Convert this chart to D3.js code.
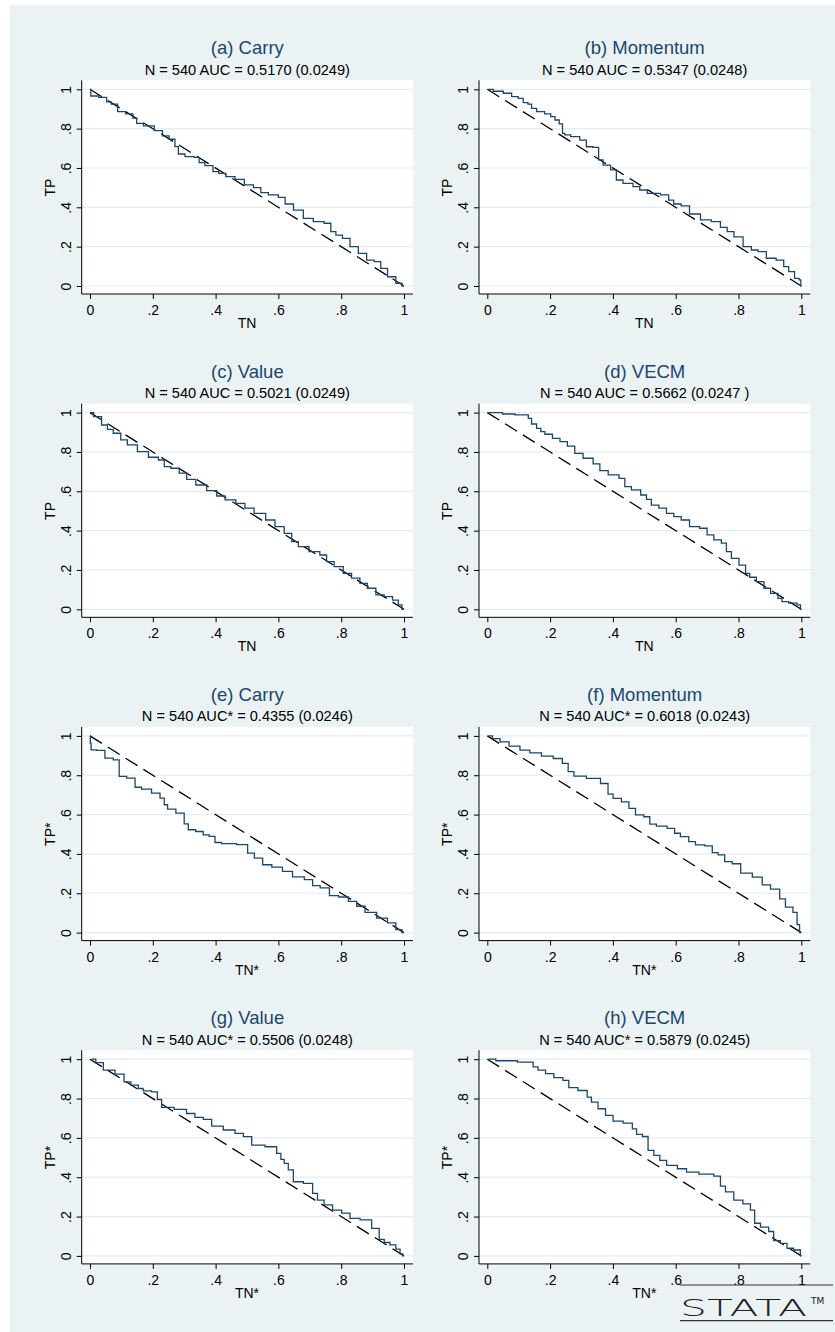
<!DOCTYPE html>
<html>
<head>
  <meta charset="utf-8">
  <script src="https://d3js.org/d3.v7.min.js"></script>
  <style>
    html, body { margin: 0; padding: 0; background: #fff; }
    svg { display: block; }
    text { font-family: "Liberation Sans", Arial, Helvetica, sans-serif; }
    .tick line { stroke: #000; }
    .domain { stroke: #000; }
  </style>
</head>
<body>
<script>
// panel texts
const titles = ["(a) Carry", "(b) Momentum", "(c) Value", "(d) VECM",
                "(e) Carry", "(f) Momentum", "(g) Value", "(h) VECM"];
const subtitles = ["N = 540 AUC = 0.5170 (0.0249)", "N = 540 AUC = 0.5347 (0.0248)",
                   "N = 540 AUC = 0.5021 (0.0249)", "N = 540 AUC = 0.5662 (0.0247 )",
                   "N = 540 AUC* = 0.4355 (0.0246)", "N = 540 AUC* = 0.6018 (0.0243)",
                   "N = 540 AUC* = 0.5506 (0.0248)", "N = 540 AUC* = 0.5879 (0.0245)"];
const xTitles = ["TN", "TN", "TN", "TN", "TN*", "TN*", "TN*", "TN*"];
const yTitles = ["TP", "TP", "TP", "TP", "TP*", "TP*", "TP*", "TP*"];
const tickVals = [0, 0.2, 0.4, 0.6, 0.8, 1];
const tickLabels = ["0", ".2", ".4", ".6", ".8", "1"];
const refLine = [[0, 1], [1, 0]];

// ROC curves, [TN, TP]
const rocA = [[0,1],[0.005,0.966],[0.051,0.959],[0.055,0.936],[0.08,0.925],[0.096,0.886],[0.13,0.875],
  [0.143,0.853],[0.154,0.827],[0.186,0.814],[0.223,0.79],[0.239,0.763],[0.265,0.746],[0.276,0.709],
  [0.287,0.671],[0.318,0.658],[0.345,0.654],[0.35,0.627],[0.382,0.612],[0.401,0.581],[0.419,0.573],
  [0.446,0.556],[0.478,0.542],[0.505,0.514],[0.536,0.5],[0.552,0.475],[0.584,0.463],[0.616,0.451],
  [0.627,0.417],[0.669,0.386],[0.69,0.344],[0.732,0.327],[0.759,0.319],[0.775,0.276],[0.791,0.259],
  [0.817,0.242],[0.839,0.2],[0.87,0.166],[0.892,0.132],[0.918,0.124],[0.934,0.09],[0.961,0.047],
  [0.987,0.014],[1,0]];
const rocB = [[0.003,1],[0.035,0.99],[0.067,0.98],[0.088,0.963],[0.109,0.954],[0.12,0.932],[0.139,0.925],
  [0.143,0.903],[0.171,0.886],[0.194,0.875],[0.21,0.861],[0.221,0.844],[0.237,0.824],[0.242,0.776],
  [0.252,0.768],[0.279,0.759],[0.31,0.742],[0.321,0.708],[0.351,0.705],[0.358,0.641],[0.379,0.615],
  [0.406,0.59],[0.416,0.539],[0.448,0.522],[0.48,0.505],[0.491,0.488],[0.528,0.471],[0.575,0.463],
  [0.58,0.437],[0.607,0.417],[0.628,0.407],[0.66,0.366],[0.698,0.336],[0.729,0.327],[0.756,0.298],
  [0.772,0.276],[0.799,0.25],[0.83,0.2],[0.852,0.183],[0.873,0.175],[0.904,0.141],[0.936,0.132],
  [0.952,0.098],[0.968,0.073],[0.989,0.039],[0.997,0.031],[1,0]];
const rocC = [[0.002,1],[0.021,0.98],[0.053,0.937],[0.058,0.915],[0.09,0.895],[0.106,0.861],[0.132,0.836],
  [0.17,0.802],[0.202,0.773],[0.234,0.759],[0.239,0.725],[0.276,0.717],[0.292,0.692],[0.324,0.661],
  [0.35,0.632],[0.393,0.603],[0.414,0.576],[0.446,0.556],[0.483,0.539],[0.504,0.514],[0.541,0.488],
  [0.578,0.454],[0.6,0.42],[0.637,0.386],[0.648,0.344],[0.679,0.319],[0.716,0.293],[0.748,0.276],
  [0.759,0.242],[0.796,0.217],[0.817,0.183],[0.849,0.158],[0.87,0.132],[0.897,0.107],[0.924,0.073],
  [0.95,0.064],[0.977,0.047],[0.987,0.022],[1,0]];
const rocD = [[0.003,1],[0.046,1],[0.051,0.993],[0.125,0.988],[0.136,0.971],[0.146,0.942],[0.168,0.92],
  [0.173,0.903],[0.194,0.89],[0.221,0.869],[0.242,0.852],[0.268,0.83],[0.289,0.793],[0.321,0.768],
  [0.353,0.739],[0.364,0.705],[0.406,0.683],[0.433,0.666],[0.443,0.624],[0.475,0.607],[0.502,0.581],
  [0.512,0.559],[0.533,0.53],[0.56,0.514],[0.581,0.488],[0.607,0.471],[0.628,0.454],[0.66,0.42],
  [0.692,0.412],[0.708,0.378],[0.735,0.353],[0.756,0.336],[0.767,0.293],[0.788,0.259],[0.815,0.225],
  [0.83,0.183],[0.841,0.163],[0.873,0.141],[0.889,0.107],[0.915,0.081],[0.936,0.056],[0.941,0.039],
  [0.978,0.031],[0.995,0.022],[1,0]];
const rocE = [[0,1],[0.002,0.963],[0.005,0.929],[0.037,0.926],[0.058,0.887],[0.09,0.878],[0.096,0.794],
  [0.138,0.785],[0.149,0.739],[0.18,0.729],[0.212,0.709],[0.234,0.684],[0.239,0.65],[0.255,0.628],
  [0.292,0.607],[0.308,0.553],[0.318,0.523],[0.355,0.514],[0.366,0.497],[0.393,0.489],[0.403,0.458],
  [0.435,0.452],[0.499,0.447],[0.505,0.404],[0.542,0.379],[0.558,0.345],[0.6,0.333],[0.626,0.311],
  [0.664,0.283],[0.701,0.269],[0.717,0.239],[0.749,0.227],[0.776,0.188],[0.807,0.181],[0.839,0.159],
  [0.86,0.134],[0.892,0.103],[0.934,0.074],[0.961,0.049],[0.987,0.015],[1,0]];
const rocF = [[0.003,1],[0.03,0.986],[0.051,0.97],[0.088,0.948],[0.12,0.928],[0.151,0.914],[0.194,0.897],
  [0.226,0.885],[0.252,0.86],[0.263,0.818],[0.289,0.796],[0.342,0.784],[0.379,0.758],[0.39,0.704],
  [0.411,0.682],[0.443,0.665],[0.459,0.632],[0.485,0.598],[0.512,0.589],[0.523,0.551],[0.554,0.541],
  [0.591,0.53],[0.602,0.505],[0.628,0.488],[0.655,0.463],[0.671,0.446],[0.714,0.441],[0.719,0.407],
  [0.751,0.395],[0.761,0.361],[0.799,0.35],[0.815,0.302],[0.873,0.282],[0.878,0.243],[0.926,0.221],
  [0.936,0.171],[0.963,0.13],[0.984,0.103],[0.989,0.041],[1,0]];
const rocG = [[0.005,1],[0.032,0.983],[0.053,0.944],[0.106,0.924],[0.111,0.885],[0.149,0.868],[0.159,0.851],
  [0.18,0.839],[0.212,0.834],[0.217,0.795],[0.239,0.755],[0.297,0.745],[0.318,0.724],[0.35,0.704],
  [0.372,0.694],[0.403,0.66],[0.446,0.64],[0.478,0.623],[0.499,0.606],[0.531,0.563],[0.584,0.555],
  [0.605,0.521],[0.611,0.491],[0.626,0.47],[0.637,0.437],[0.658,0.377],[0.701,0.369],[0.717,0.318],
  [0.732,0.284],[0.759,0.259],[0.786,0.233],[0.817,0.217],[0.839,0.191],[0.881,0.183],[0.913,0.14],
  [0.929,0.084],[0.945,0.068],[0.966,0.056],[0.982,0.034],[0.993,0.01],[1,0]];
const rocH = [[0.003,1],[0.051,0.992],[0.141,0.985],[0.151,0.961],[0.172,0.944],[0.199,0.927],[0.225,0.906],
  [0.257,0.892],[0.262,0.855],[0.315,0.841],[0.321,0.807],[0.342,0.782],[0.363,0.748],[0.39,0.714],
  [0.411,0.685],[0.454,0.675],[0.47,0.646],[0.481,0.618],[0.507,0.607],[0.517,0.536],[0.544,0.511],
  [0.555,0.486],[0.587,0.46],[0.624,0.443],[0.645,0.426],[0.703,0.416],[0.74,0.406],[0.745,0.355],
  [0.772,0.326],[0.798,0.284],[0.83,0.264],[0.846,0.233],[0.857,0.166],[0.883,0.146],[0.909,0.124],
  [0.915,0.078],[0.952,0.064],[0.957,0.039],[0.994,0.03],[1,0]];
const curves = [rocA, rocB, rocC, rocD, rocE, rocF, rocG, rocH];

const width = 835, height = 1332;
const colX = [90, 487.3];       // pixel of TN = 0 in each column
const rowY = 89.3, rowStep = 323.3; // pixel of TP = 1 in first row
const plotW = 314, plotH = 196.7;
const navy = "#1a476f", bgCol = "#eaf2f3";

const svg = d3.select("body").append("svg")
  .attr("width", width).attr("height", height);

svg.append("rect").attr("x", 10).attr("y", 5)
  .attr("width", width - 10).attr("height", height - 5).attr("fill", bgCol);

titles.forEach(function(t, i) {
  const col = i % 2, row = Math.floor(i / 2);
  const x0 = colX[col], yTop = rowY + row * rowStep;
  const x = d3.scaleLinear().domain([0, 1]).range([x0, x0 + plotW]);
  const y = d3.scaleLinear().domain([0, 1]).range([yTop + plotH, yTop]);

  const left = x0 - 8.3, right = x0 + plotW + 9;
  const top = yTop - 9, bottom = yTop + plotH + 8;
  const g = svg.append("g");

  // white plot region
  g.append("rect").attr("x", left).attr("y", top)
    .attr("width", right - left).attr("height", bottom - top).attr("fill", "#fff");

  // grid
  g.selectAll(".grid").data(tickVals).enter().append("line")
    .attr("x1", left).attr("x2", right)
    .attr("y1", d => y(d)).attr("y2", d => y(d))
    .attr("stroke", "#e4ecee").attr("stroke-width", 1.2);

  // axes
  const xAxis = g.append("g").attr("transform", `translate(0,${bottom})`)
    .call(d3.axisBottom(x).tickValues(tickVals).tickFormat((d, k) => tickLabels[k])
      .tickSize(5).tickSizeOuter(0).tickPadding(6));
  xAxis.select(".domain").attr("d", `M${left - x0 + x0},0H${right}`);
  xAxis.selectAll("text").attr("font-size", 14).attr("fill", "#000")
    .style("font-family", "'Liberation Sans', Arial, sans-serif");

  const yAxis = g.append("g").attr("transform", `translate(${left},0)`)
    .call(d3.axisLeft(y).tickValues(tickVals).tickFormat((d, k) => tickLabels[k])
      .tickSize(5).tickSizeOuter(0));
  yAxis.select(".domain").attr("d", `M0,${top}V${bottom}`);
  yAxis.selectAll("text")
    .attr("x", null).attr("dy", null)
    .attr("text-anchor", "middle")
    .attr("transform", "translate(-11,0) rotate(-90)")
    .attr("font-size", 14).attr("fill", "#000")
    .style("font-family", "'Liberation Sans', Arial, sans-serif");

  // reference diagonal
  g.append("path").datum(refLine)
    .attr("d", d3.line().x(d => x(d[0])).y(d => y(d[1])))
    .attr("fill", "none").attr("stroke", "#000")
    .attr("stroke-width", 1.3).attr("stroke-dasharray", "14,7");

  // ROC curve
  g.append("path").datum(curves[i])
    .attr("d", d3.line().x(d => x(d[0])).y(d => y(d[1])).curve(d3.curveStep))
    .attr("fill", "none").attr("stroke", navy).attr("stroke-width", 1.3);

  // titles
  const cx = (left + right) / 2;
  g.append("text").attr("x", cx).attr("y", yTop - 35)
    .attr("text-anchor", "middle").attr("font-size", 18.5).attr("fill", navy).text(t);
  g.append("text").attr("x", cx).attr("y", yTop - 14.5)
    .attr("text-anchor", "middle").attr("font-size", 14.6).attr("fill", "#000").text(subtitles[i]);

  // axis titles
  g.append("text").attr("x", x(0.5)).attr("y", bottom + 34)
    .attr("text-anchor", "middle").attr("font-size", 14).text(xTitles[i]);
  g.append("text")
    .attr("transform", `translate(${left - 27},${y(0.5)}) rotate(-90)`)
    .attr("text-anchor", "middle").attr("font-size", 14).text(yTitles[i]);
});

// stata logo
svg.append("line").attr("x1", 680).attr("x2", 833).attr("y1", 1285).attr("y2", 1285)
  .attr("stroke", "#333").attr("stroke-width", 1.2);
svg.append("line").attr("x1", 680).attr("x2", 833).attr("y1", 1320.7).attr("y2", 1320.7)
  .attr("stroke", "#333").attr("stroke-width", 1.2);
svg.append("text").attr("x", 680).attr("y", 1315.5)
  .attr("font-size", 23).attr("font-weight", 200)
  .style("font-family", "'DejaVu Sans', sans-serif")
  .attr("textLength", 127).attr("lengthAdjust", "spacingAndGlyphs")
  .attr("fill", "#222").text("STATA");
svg.append("text").attr("x", 811).attr("y", 1304)
  .attr("font-size", 9).attr("fill", "#222")
  .style("font-family", "'DejaVu Sans', sans-serif").text("TM");
</script>
</body>
</html>
